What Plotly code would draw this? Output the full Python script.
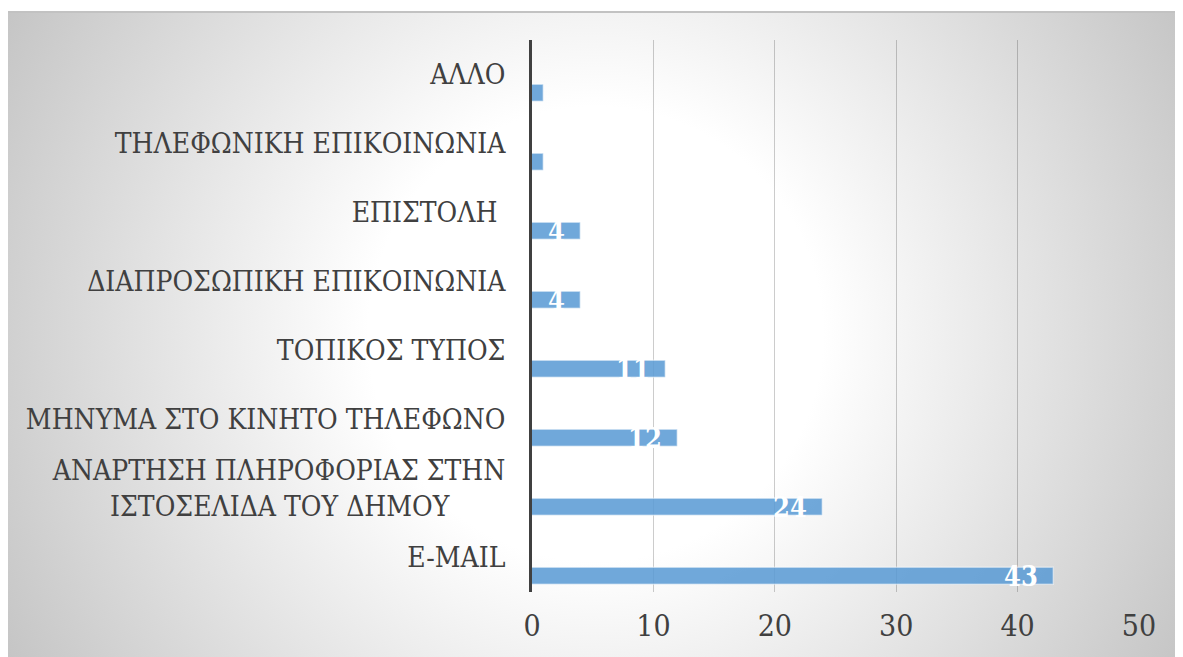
import base64
import plotly.graph_objects as go

# categories listed bottom to top
categories = [
    "E-MAIL",
    "ΑΝΑΡΤΗΣΗ ΠΛΗΡΟΦΟΡΙΑΣ ΣΤΗΝ<br>ΙΣΤΟΣΕΛΙΔΑ ΤΟΥ ΔΗΜΟΥ" + "\u00a0" * 7,
    "ΜΗΝΥΜΑ ΣΤΟ ΚΙΝΗΤΟ ΤΗΛΕΦΩΝΟ",
    "ΤΟΠΙΚΟΣ ΤΥΠΟΣ",
    "ΔΙΑΠΡΟΣΩΠΙΚΗ ΕΠΙΚΟΙΝΩΝΙΑ",
    "ΕΠΙΣΤΟΛΗ\u00a0",
    "ΤΗΛΕΦΩΝΙΚΗ ΕΠΙΚΟΙΝΩΝΙΑ",
    "ΑΛΛΟ",
]
values = [43, 24, 12, 11, 4, 4, 1, 1]
value_labels = ["43", "24", "12", "11", "4", "4", "", ""]
x_ticks = [0, 10, 20, 30, 40, 50]

# page body adds ~8px, so the figure is laid out in page coords minus 8
W, H = 1175, 649
ML, MR, MT, MB = 524, 44, 32, 65
plot_w = W - ML - MR
plot_h = H - MT - MB

FONT = "DejaVu Serif Condensed, DejaVu Serif"
TXT = "#404040"

# chart frame with radial gradient (white centre, grey edges)
fx0, fy0, fw, fh = 0, 3, W, H - 3
svg = f"""<svg xmlns="http://www.w3.org/2000/svg" width="{fw}" height="{fh}">
<defs><radialGradient id="g" gradientUnits="userSpaceOnUse" cx="{fw/2}" cy="{fh/2}" r="710">
<stop offset="0.32" stop-color="#ffffff"/><stop offset="1" stop-color="#c0c0c0"/></radialGradient></defs>
<rect width="{fw}" height="{fh}" fill="url(#g)"/>
<line x1="0" y1="1" x2="{fw}" y2="1" stroke="#c2c2c2" stroke-width="2"/>
</svg>"""
bg_src = "data:image/svg+xml;base64," + base64.b64encode(svg.encode()).decode()

BAR_W = 0.26
BAR_OFF = -0.405
cat_px = plot_h / len(categories)

fig = go.Figure()
fig.add_trace(go.Bar(
    y=categories, x=values, orientation="h",
    width=BAR_W, offset=BAR_OFF,
    marker=dict(color="rgba(91,155,213,0.87)",
                line=dict(color="rgba(255,255,255,0.45)", width=1.5)),
    hoverinfo="x+y",
))

for cat, v, lab in zip(categories, values, value_labels):
    if not lab:
        continue
    fig.add_annotation(
        x=v, y=cat, text=f"<b>{lab}</b>", showarrow=False,
        xanchor="right", yanchor="middle", xshift=-14,
        yshift=(BAR_OFF + BAR_W / 2) * cat_px,
        font=dict(family=FONT, size=27, color="white"),
    )

fig.update_layout(
    width=W, height=H,
    margin=dict(l=ML, r=MR, t=MT, b=MB, pad=0, autoexpand=False),
    paper_bgcolor="white",
    plot_bgcolor="rgba(0,0,0,0)",
    font=dict(family=FONT, color=TXT, size=28),
    showlegend=False,
    bargap=0,
    images=[dict(
        source=bg_src, xref="paper", yref="paper",
        x=(fx0 - ML) / plot_w, y=(H - MB - fy0) / plot_h,
        sizex=fw / plot_w, sizey=fh / plot_h,
        xanchor="left", yanchor="top", sizing="stretch", layer="below",
    )],
    xaxis=dict(
        range=[0, 50], tickvals=x_ticks, showgrid=True, automargin=False,
        gridcolor="rgba(0,0,0,0.2)", gridwidth=1, zeroline=False,
        showline=False, ticks="", ticklabelstandoff=13,
        tickfont=dict(family=FONT, size=30, color=TXT),
    ),
    yaxis=dict(
        range=[-0.5, len(categories) - 0.5], showgrid=False, zeroline=False,
        showline=True, linecolor="#404040", linewidth=3, automargin=False,
        ticks="", ticklabelstandoff=18,
        tickfont=dict(family=FONT, size=28, color=TXT),
    ),
)

fig.write_html("out.html")
